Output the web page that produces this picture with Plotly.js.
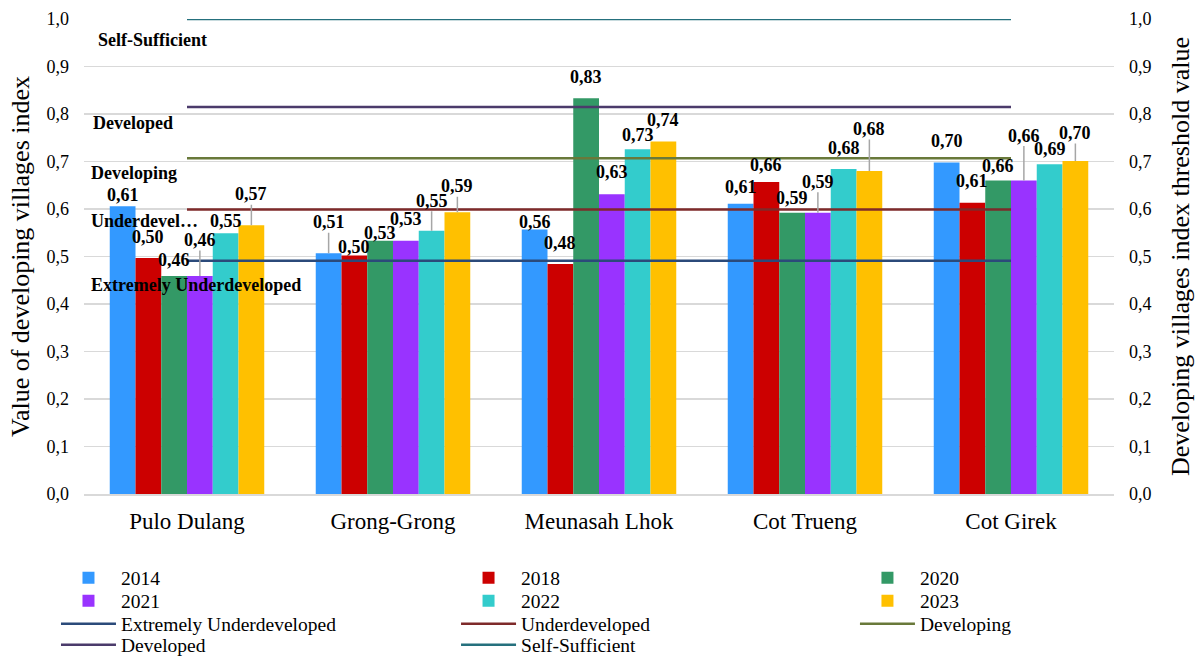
<!DOCTYPE html>
<html>
<head>
<meta charset="utf-8">
<script src="https://cdn.plot.ly/plotly-3.0.1.min.js"></script>
<style>html,body{margin:0;padding:0;background:#fff;}#chart{width:1200px;height:657px;}</style>
</head>
<body>
<div id="chart"></div>
<script>
// ---- data ----
const villages = ["Pulo Dulang", "Grong-Grong", "Meunasah Lhok", "Cot Trueng", "Cot Girek"];
const years = ["2014", "2018", "2020", "2021", "2022", "2023"];
const idm2014 = [0.606, 0.507, 0.557, 0.611, 0.698];
const idm2018 = [0.497, 0.502, 0.484, 0.657, 0.613];
const idm2020 = [0.459, 0.533, 0.833, 0.592, 0.660];
const idm2021 = [0.459, 0.533, 0.631, 0.592, 0.660];
const idm2022 = [0.549, 0.554, 0.726, 0.684, 0.694];
const idm2023 = [0.566, 0.593, 0.742, 0.680, 0.701];
const thresholdNames = ["Extremely Underdeveloped", "Underdeveloped", "Developing", "Developed", "Self-Sufficient"];
const thresholdValues = [0.491, 0.599, 0.707, 0.815, 1.0];
const thresholdLabelText = ["Extremely Underdeveloped", "Underdevel\u2026", "Developing", "Developed", "Self-Sufficient"];
const yTickValues = [0, 0.1, 0.2, 0.3, 0.4, 0.5, 0.6, 0.7, 0.8, 0.9, 1.0];

// ---- styles (kept apart from data) ----
const barColors = ["#3399FF", "#CC0000", "#339966", "#9933FF", "#33CCCC", "#FFC000"];
const lineColors = ["#2B4A7A", "#7E2A2A", "#69793A", "#4B3B6B", "#25707D"];
// label lift above bar top (px) and whether a leader line is drawn, per year per village
const labelLift = [
  [11, 31, 7, 17, 21],
  [21, 9, 21, 17, 22],
  [16, 8, 21, 15, 15],
  [36, 22, 22, 31, 45],
  [12, 30, 14, 21, 15],
  [31, 26, 22, 42, 28]
];
const labelLeader = [
  [0, 1, 0, 0, 0],
  [0, 0, 0, 0, 0],
  [0, 0, 0, 0, 0],
  [1, 0, 0, 1, 1],
  [0, 1, 0, 0, 0],
  [1, 1, 0, 1, 1]
];
const thrLabelShift = [[5, -24], [5, -12], [5, -15], [7, -16], [12, -21]];
// legend grid: 3 columns (paper x) x 4 rows (paper y), filled row-wise
const legendColX = [-0.0272, 0.3612, 0.7485];
const legendRowY = [-0.1768, -0.2253, -0.2737, -0.3179];

const series = [idm2014, idm2018, idm2020, idm2021, idm2022, idm2023];
const FONT = "Liberation Serif, Times New Roman, serif";
const fmt = v => v.toFixed(2).replace(".", ",");
const legendId = n => (n === 0 ? "legend" : "legend" + (n + 1));

const traces = [];
series.forEach((vals, i) => {
  traces.push({
    type: "bar", name: years[i], x: villages, y: vals,
    marker: {color: barColors[i]}, legend: legendId(traces.length)
  });
});
thresholdValues.forEach((t, k) => {
  traces.push({
    type: "scatter", mode: "lines", name: thresholdNames[k],
    x: villages, y: villages.map(() => t), yaxis: "y2",
    line: {color: lineColors[k], width: 2.5}, legend: legendId(traces.length)
  });
});

const nS = series.length;
const groupWidth = 0.75;
const barW = groupWidth / nS;
const annotations = [];
series.forEach((vals, i) => {
  vals.forEach((v, g) => {
    const xpos = g + (i - (nS - 1) / 2) * barW;
    const lift = labelLift[i][g];
    const a = {
      xref: "x", yref: "y", x: xpos, y: v, text: "<b>" + fmt(v) + "</b>",
      font: {family: FONT, size: 18, color: "#000"}
    };
    if (labelLeader[i][g]) {
      Object.assign(a, {showarrow: true, arrowhead: 0, arrowwidth: 1.5, arrowcolor: "#A6A6A6",
        ax: 0, ay: -lift, standoff: 0, startstandoff: 0, borderpad: 0});
    } else {
      Object.assign(a, {showarrow: false, yanchor: "middle", yshift: lift});
    }
    annotations.push(a);
  });
});
thresholdValues.forEach((t, k) => {
  annotations.push({
    xref: "x", yref: "y2", x: -0.5, y: t, xanchor: "left", yanchor: "middle",
    xshift: thrLabelShift[k][0], yshift: thrLabelShift[k][1], showarrow: false,
    text: "<b>" + thresholdLabelText[k] + "</b>",
    font: {family: FONT, size: 18, color: "#000"}
  });
});

const yTickText = yTickValues.map(v => v.toFixed(1).replace(".", ","));
const layout = {
  width: 1200, height: 657,
  margin: {l: 84, r: 86, t: 19, b: 163, autoexpand: false},
  paper_bgcolor: "#fff", plot_bgcolor: "#fff",
  font: {family: FONT, color: "#000"},
  barmode: "group", bargap: 0.25, bargroupgap: 0,
  showlegend: true,
  xaxis: {
    type: "category", range: [-0.5, 4.5], automargin: false,
    showline: true, linecolor: "#D9D9D9", linewidth: 1.5,
    showgrid: false, ticks: "", tickfont: {family: FONT, size: 23, color: "#000"},
    ticklabelstandoff: 6
  },
  yaxis: {
    range: [0, 1.0], automargin: false, tickvals: yTickValues, ticktext: yTickText,
    showgrid: true, gridcolor: "#D9D9D9", gridwidth: 1.5, zeroline: false,
    showline: false, ticks: "", tickfont: {family: FONT, size: 18, color: "#000"},
    ticklabelstandoff: 14,
    title: {text: "Value of developing villages index", font: {family: FONT, size: 26, color: "#000"}, standoff: 9}
  },
  yaxis2: {
    range: [0, 1.0], overlaying: "y", side: "right", automargin: false,
    tickvals: yTickValues, ticktext: yTickText, showgrid: false, zeroline: false,
    showline: false, ticks: "", tickfont: {family: FONT, size: 18, color: "#000"},
    ticklabelstandoff: 14,
    title: {text: "Developing villages index threshold value", font: {family: FONT, size: 26, color: "#000"}, standoff: 20}
  },
  annotations: annotations
};
traces.forEach((tr, n) => {
  layout[legendId(n)] = {
    x: legendColX[n % 3], y: legendRowY[Math.floor(n / 3)], xanchor: "left", yanchor: "middle",
    orientation: "v", itemwidth: 55, bgcolor: "rgba(0,0,0,0)",
    font: {family: FONT, size: 19.5, color: "#000"}
  };
});
Plotly.newPlot("chart", traces, layout, {displayModeBar: false, staticPlot: true});
</script>
</body>
</html>
